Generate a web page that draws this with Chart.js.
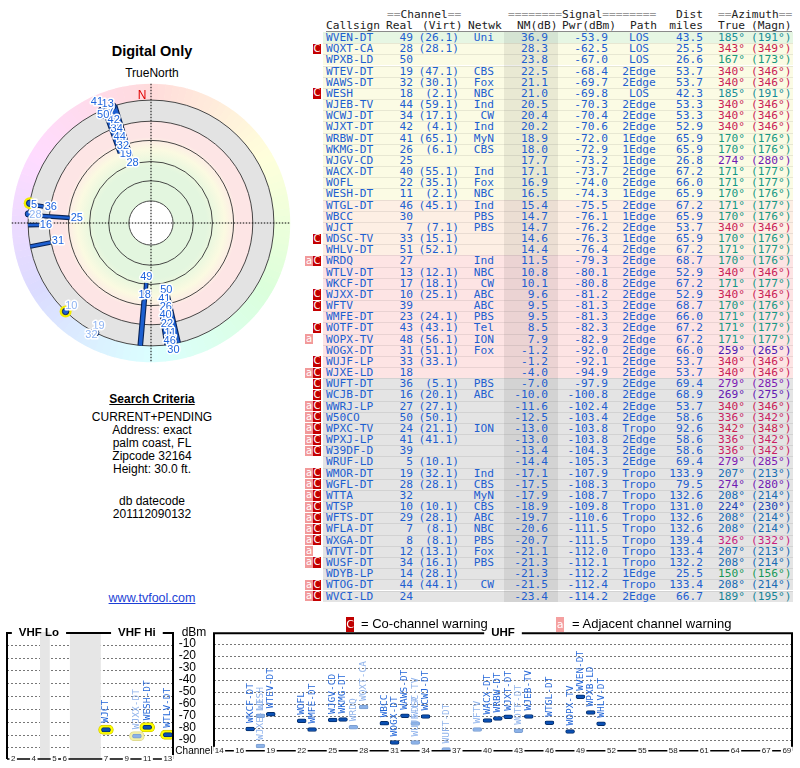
<!DOCTYPE html>
<html>
<head>
<meta charset="utf-8">
<title>Digital Only</title>
<script src="https://cdn.jsdelivr.net/npm/chart.js"></script>
<style>
  body { margin: 0; background: #fff; font-family: "Liberation Sans", Arial, sans-serif; }
  #page { position: relative; width: 800px; height: 768px; overflow: hidden; }
  .side { position: absolute; left: 0; width: 304px; text-align: center; font-size: 12px; line-height: 13px; color: #000; }
  .tb { position: absolute; white-space: pre; font-family: "DejaVu Sans Mono", monospace; font-size: 11.2px; }
  .eq { color: #9a9a9a; }
  .mk { position: absolute; width: 8px; color: #fff; font-family: "DejaVu Sans", sans-serif; font-size: 10px; text-align: center; }
  canvas { position: absolute; }
</style>
</head>
<body>
<div id="page">
  <div class="side" style="top:42px;font-size:14.5px;line-height:18px;font-weight:bold;">Digital Only</div>
  <div class="side" style="top:67px;">TrueNorth</div>
  <canvas id="polar" width="302" height="304" style="left:0;top:71px;"></canvas>
  <div class="side" style="top:393px;font-weight:bold;text-decoration:underline;">Search Criteria</div>
  <div class="side" style="top:411px;">CURRENT+PENDING<br>Address: exact<br>palm coast, FL<br>Zipcode 32164<br>Height: 30.0 ft.</div>
  <div class="side" style="top:495px;">db datecode<br>201112090132</div>
  <div class="side" style="top:591px;font-size:12.5px;line-height:14px;color:#1c3fd6;text-decoration:underline;">www.tvfool.com</div>
  <div id="tbl"></div>
  <canvas id="vhf" width="176" height="153" style="left:0;top:615px;"></canvas>
  <canvas id="uhf" width="628" height="153" style="left:172px;top:615px;"></canvas>
  <div class="mk" style="left:346px;top:617px;height:15px;line-height:15px;font-size:11px;background:#c00000;">C</div>
  <div style="position:absolute;left:361px;top:616px;font-size:13px;line-height:16px;">= Co-channel warning</div>
  <div class="mk" style="left:556px;top:617px;height:15px;line-height:15px;font-size:11px;background:#f5a0a0;">a</div>
  <div style="position:absolute;left:572px;top:616px;font-size:13px;line-height:16px;">= Adjacent channel warning</div>
</div>

<script>
// ---- station data ----
const callsigns = ['WVEN-DT','WQXT-CA','WPXB-LD','WTEV-DT','WAWS-DT','WESH','WJEB-TV','WCWJ-DT','WJXT-DT','WRBW-DT',
  'WKMG-DT','WJGV-CD','WACX-DT','WOFL','WESH-DT','WTGL-DT','WBCC','WJCT','WDSC-TV','WHLV-DT',
  'WRDQ','WTLV-DT','WKCF-DT','WJXX-DT','WFTV','WMFE-DT','WOTF-DT','WOPX-TV','WOGX-DT','WUJF-LP',
  'WJXE-LD','WUFT-DT','WCJB-DT','WWRJ-LP','W50CO','WPXC-TV','WPXJ-LP','W39DF-D','WRUF-LD','WMOR-DT',
  'WGFL-DT','WTTA','WTSP','WFTS-DT','WFLA-DT','WXGA-DT','WTVT-DT','WUSF-DT','WDYB-LP','WTOG-DT','WVCI-LD'];
const realCh = [49,28,50,19,32,18,44,34,42,41, 26,25,40,22,11,46,30,7,33,51,
  27,13,17,10,39,23,43,48,31,33, 18,36,16,27,50,24,41,39,5,19, 28,32,10,29,7,8,12,34,14,44,24];
const virtCh = ['26.1','28.1','','47.1','30.1','2.1','59.1','17.1','4.1','65.1',
  '6.1','','55.1','35.1','2.1','45.1','','7.1','15.1','52.1',
  '','12.1','18.1','25.1','','24.1','43.1','56.1','51.1','33.1',
  '','5.1','20.1','27.1','50.1','21.1','41.1','','10.1','32.1',
  '28.1','','10.1','28.1','8.1','8.1','13.1','16.1','28.1','44.1',''];
const networks = ['Uni','','','CBS','Fox','NBC','Ind','CW','Ind','MyN',
  'CBS','','Ind','Fox','NBC','Ind','PBS','PBS','','',
  'Ind','NBC','CW','ABC','ABC','PBS','Tel','ION','Fox','',
  '','PBS','ABC','','','ION','','','','Ind',
  'CBS','MyN','CBS','ABC','NBC','PBS','Fox','PBS','','CW',''];
const nmDb = [36.9,28.3,23.8,22.5,21.1,21.0,20.5,20.4,20.2,18.9,
  18.0,17.7,17.1,16.9,16.5,15.4,14.7,14.7,14.6,14.4,
  11.5,10.8,10.1,9.6,9.5,9.5,8.5,7.9,-1.2,-1.2,
  -4.0,-7.0,-10.0,-11.6,-12.5,-13.0,-13.0,-13.4,-14.4,-17.1,
  -17.5,-17.9,-18.9,-19.7,-20.6,-20.7,-21.1,-21.3,-21.3,-21.5,-23.4];
const pwrDbm = [-53.9,-62.5,-67.0,-68.4,-69.7,-69.8,-70.3,-70.4,-70.6,-72.0,
  -72.9,-73.2,-73.7,-74.0,-74.3,-75.5,-76.1,-76.2,-76.3,-76.4,
  -79.3,-80.1,-80.8,-81.2,-81.3,-81.3,-82.3,-82.9,-92.0,-92.1,
  -94.9,-97.9,-100.8,-102.4,-103.4,-103.8,-103.8,-104.3,-105.3,-107.9,
  -108.3,-108.7,-109.8,-110.6,-111.5,-111.5,-112.0,-112.1,-112.2,-112.4,-114.2];
const paths = ['LOS','LOS','LOS','2Edge','2Edge','LOS','2Edge','2Edge','2Edge','1Edge',
  '1Edge','1Edge','2Edge','2Edge','1Edge','2Edge','1Edge','2Edge','1Edge','2Edge',
  '2Edge','2Edge','2Edge','2Edge','2Edge','2Edge','2Edge','2Edge','2Edge','2Edge',
  '2Edge','2Edge','2Edge','2Edge','2Edge','Tropo','2Edge','2Edge','2Edge','Tropo',
  'Tropo','Tropo','Tropo','Tropo','Tropo','Tropo','Tropo','Tropo','1Edge','Tropo','2Edge'];
const distMiles = [43.5,25.5,26.6,53.7,53.7,42.3,53.3,53.3,52.9,65.9,
  65.9,26.8,67.2,66.0,65.9,67.2,65.9,53.7,65.9,67.2,
  68.7,52.9,67.2,52.9,68.7,66.0,67.2,67.2,66.0,53.7,
  53.7,69.4,68.9,53.7,58.6,92.6,58.6,58.6,69.4,133.9,
  79.5,132.6,131.0,132.6,132.6,139.4,133.4,132.2,25.5,133.4,66.7];
const azTrue = [185,343,167,340,340,185,340,340,340,170,
  170,274,171,171,170,171,170,340,170,171,
  170,340,171,340,170,171,171,171,259,340,
  340,279,269,340,336,342,336,336,279,207,
  274,208,224,208,208,326,207,208,150,208,189];
const azMagn = [191,349,173,346,346,191,346,346,346,176,
  176,280,177,177,176,177,176,346,176,177,
  176,346,177,346,176,177,177,177,265,346,
  346,285,275,346,342,348,342,342,285,213,
  280,214,230,214,214,332,213,214,156,214,195];
const warnings = ['','C','','','','C','','','','',
  '','','','','','','','','C','',
  'aC','','','C','C','','C','a','','C',
  'aC','C','C','aC','aC','aC','aC','aC','','aC',
  'aC','aC','aC','aC','aC','aC','a','aC','','aC','aC'];

// ---- tick labels ----
const vhfTicks = [2,4,5,6,7,9,11,13];
const uhfTicks = [14,16,19,22,25,28,31,34,37,40,43,46,49,52,55,58,61,64,67,69];
const dbmTicks = [-10,-20,-30,-40,-50,-60,-70,-80,-90];

// ---- helpers ----
function tierColor(nm) {
  if (nm >= 30) return '#e6f6e3';
  if (nm >= 16) return '#fbfbe4';
  if (nm >= 13) return '#fdefe4';
  if (nm >= -5) return '#fde4e4';
  return '#e4e4e4';
}
function azColor(a) {
  const l = (a >= 120 && a < 200) ? 34 : (a >= 200 && a < 300) ? 40 : 45;
  return 'hsl(' + a + ',75%,' + l + '%)';
}

// ---- table ----
const ROW_TOP = 32, ROW_H = 11.17;
(function buildTable() {
  let h = '';
  const txt = (x, top, s, color, align) => {
    let pos = 'left:' + x + 'px;';
    if (align === 'r') pos = 'left:' + (x - 90) + 'px;width:90px;text-align:right;';
    if (align === 'c') pos = 'left:' + (x - 45) + 'px;width:90px;text-align:center;';
    return '<div class="tb" style="' + pos + 'top:' + top + 'px;line-height:' + ROW_H + 'px;color:' + color + '">' + s + '</div>';
  };
  const hc = '#222';
  const t1 = 15 - ROW_H / 2, t2 = 26 - ROW_H / 2;
  h += txt(387, t1, '<span class="eq">==</span>Channel<span class="eq">==</span>', hc);
  h += txt(508, t1, '<span class="eq">========</span>Signal<span class="eq">========</span>', hc);
  h += txt(703, t1, 'Dist', hc, 'r');
  h += txt(718, t1, '<span class="eq">==</span>Azimuth<span class="eq">==</span>', hc);
  h += txt(326, t2, 'Callsign', hc);
  h += txt(413, t2, 'Real', hc, 'r');
  h += txt(422, t2, '(Virt)', hc);
  h += txt(468, t2, 'Netwk', hc);
  h += txt(517, t2, 'NM(dB)', hc);
  h += txt(562, t2, 'Pwr(dBm)', hc);
  h += txt(630, t2, 'Path', hc);
  h += txt(703, t2, 'miles', hc, 'r');
  h += txt(718, t2, 'True', hc);
  h += txt(751, t2, '(Magn)', hc);
  h += '<div style="position:absolute;left:326px;top:30.5px;width:466px;height:1px;background:#8a8a8a"></div>';

  callsigns.forEach((c, i) => {
    const top = ROW_TOP + i * ROW_H;
    h += '<div style="position:absolute;left:323px;width:470px;box-sizing:border-box;top:' + top + 'px;height:' + ROW_H +
      'px;background:' + tierColor(nmDb[i]) + ';' + (i ? 'border-top:1px solid rgba(0,0,0,0.08)' : '') + '"></div>';
  });
  h += '<div style="position:absolute;left:504px;width:54px;top:' + ROW_TOP + 'px;height:' + (callsigns.length * ROW_H) + 'px;background:rgba(0,0,0,0.07)"></div>';

  const bc = '#1e5fd0';
  callsigns.forEach((c, i) => {
    const top = ROW_TOP + i * ROW_H;
    if (warnings[i].includes('a'))
      h += '<div class="mk" style="left:305px;top:' + (top + 0.5) + 'px;height:' + (ROW_H - 1) + 'px;line-height:' + (ROW_H - 1) + 'px;background:#f29a9a">a</div>';
    if (warnings[i].includes('C'))
      h += '<div class="mk" style="left:313px;top:' + (top + 0.5) + 'px;height:' + (ROW_H - 1) + 'px;line-height:' + (ROW_H - 1) + 'px;background:#c40000">C</div>';
    h += txt(326, top, c, bc);
    h += txt(413, top, String(realCh[i]), bc, 'r');
    if (virtCh[i]) h += txt(459, top, '(' + virtCh[i] + ')', bc, 'r');
    if (networks[i]) h += txt(494, top, networks[i], bc, 'r');
    h += txt(548, top, nmDb[i].toFixed(1), bc, 'r');
    h += txt(608, top, pwrDbm[i].toFixed(1), bc, 'r');
    h += txt(639, top, paths[i], bc, 'c');
    h += txt(703, top, distMiles[i].toFixed(1), bc, 'r');
    h += txt(718, top, azTrue[i] + '°', azColor(azTrue[i]));
    h += txt(751, top, '(' + azMagn[i] + '°)', azColor(azTrue[i]));
  });
  document.getElementById('tbl').innerHTML = h;
})();

Chart.defaults.font.family = '"Liberation Sans", Arial, sans-serif';
Chart.defaults.animation = false;

// ---- polar plot (units are pixels of radius) ----
const R_EDGE = 128, R_HUE = 145;
const RINGS = [23, 44, 64, 86, 106, 128];
const POLAR_FLOOR = -111;   // weaker stations are left off the plot
function pwrToR(p) { return 64 + (-55 - p) * 1.15; }

const GAP = { x: null, y: null };
const barPts = [], barHaloPts = [], dotPts = [], dotHaloPts = [], polarLabels = [];
const byAz = {};
azTrue.forEach((a, i) => { (byAz[a] = byAz[a] || []).push(i); });
callsigns.forEach((c, i) => {
  if (pwrDbm[i] < POLAR_FLOOR) return;
  const a = azTrue[i] * Math.PI / 180;
  const ux = Math.sin(a), uy = Math.cos(a);
  const grp = byAz[azTrue[i]];
  const off = (grp.indexOf(i) - (grp.length - 1) / 2) * 1.1;
  const at = r => ({ x: ux * r + uy * off, y: uy * r - ux * off });
  const vhf = realCh[i] <= 13;
  let r = pwrToR(pwrDbm[i]);
  if (r > 120) {
    r = R_EDGE;
    dotPts.push(at(r));
    if (vhf) dotHaloPts.push(at(r));
  } else {
    barPts.push(at(r), at(R_EDGE), GAP);
    if (vhf) barHaloPts.push(at(r), at(R_EDGE), GAP);
  }
  polarLabels.push({ i, r, ux, uy });
});

const polarDeco = {
  id: 'polarDeco',
  beforeDatasetsDraw(chart) {
    const { ctx, scales: { x, y } } = chart;
    const cx = x.getPixelForValue(0), cy = y.getPixelForValue(0);
    const k = x.getPixelForValue(1) - cx;
    ctx.save();
    for (let a = 0; a < 360; a += 3) {
      const s = (a - 90) * Math.PI / 180, e = (a + 3.2 - 90) * Math.PI / 180;
      ctx.beginPath();
      ctx.arc(cx, cy, R_HUE * k, s, e);
      ctx.arc(cx, cy, R_EDGE * k, e, s, true);
      ctx.closePath();
      ctx.fillStyle = 'hsl(' + (a + 1.5) + ',100%,93%)';
      ctx.fill();
    }
    const g = ctx.createRadialGradient(cx, cy, 0, cx, cy, R_EDGE * k);
    g.addColorStop(0, '#e3f6df'); g.addColorStop(0.45, '#e3f6df');
    g.addColorStop(0.52, '#edf8df'); g.addColorStop(0.6, '#fbfae1');
    g.addColorStop(0.67, '#fdeee5'); g.addColorStop(0.7, '#fde5e5');
    g.addColorStop(0.826, '#fde5e5'); g.addColorStop(0.83, '#e3e3e3');
    g.addColorStop(1, '#e3e3e3');
    ctx.beginPath(); ctx.arc(cx, cy, R_EDGE * k, 0, 2 * Math.PI);
    ctx.fillStyle = g; ctx.fill();
    ctx.beginPath(); ctx.arc(cx, cy, RINGS[0] * k, 0, 2 * Math.PI);
    ctx.fillStyle = '#fff'; ctx.fill();
    ctx.strokeStyle = '#333'; ctx.lineWidth = 0.9;
    RINGS.forEach(r => { ctx.beginPath(); ctx.arc(cx, cy, r * k, 0, 2 * Math.PI); ctx.stroke(); });
    ctx.setLineDash([1.5, 1.5]); ctx.strokeStyle = '#000'; ctx.lineWidth = 1;
    ctx.beginPath();
    ctx.moveTo(cx - R_HUE * k, cy); ctx.lineTo(cx + R_HUE * k, cy);
    ctx.moveTo(cx, cy - R_HUE * k); ctx.lineTo(cx, cy + R_HUE * k);
    ctx.stroke();
    ctx.setLineDash([]);
    ctx.fillStyle = '#e00000'; ctx.font = '12px "Liberation Sans", Arial';
    ctx.textAlign = 'center'; ctx.textBaseline = 'middle';
    ctx.fillText('N', cx - 9, cy - 133 * k);
    ctx.restore();
  },
  afterDatasetsDraw(chart) {
    const { ctx, scales: { x, y } } = chart;
    ctx.save();
    ctx.font = '11px "Liberation Sans", Arial';
    ctx.textAlign = 'center'; ctx.textBaseline = 'middle';
    ctx.lineJoin = 'round';
    const placed = [], h = 9;
    polarLabels.forEach(L => {
      const s = String(realCh[L.i]);
      const w = ctx.measureText(s).width;
      let rl = L.r - (Math.abs(L.ux) * w / 2 + Math.abs(L.uy) * h / 2) - 1;
      let px, py, ok = false;
      for (; rl < 140; rl += 1.5) {
        px = x.getPixelForValue(L.ux * rl); py = y.getPixelForValue(L.uy * rl);
        if (!placed.some(b => Math.abs(b.x - px) < (b.w + w) / 2 - 2 && Math.abs(b.y - py) < h - 1)) { ok = true; break; }
      }
      if (!ok) return;
      placed.push({ x: px, y: py, w });
      ctx.lineWidth = 3; ctx.strokeStyle = '#fff';
      ctx.strokeText(s, px, py);
      ctx.fillStyle = nmDb[L.i] < -15 ? '#8fb4f2' : '#1d64de';
      ctx.fillText(s, px, py);
    });
    ctx.restore();
  }
};

new Chart(document.getElementById('polar'), {
  type: 'scatter',
  data: {
    datasets: [
      { data: dotPts, order: 0, showLine: false, pointRadius: 3.2, pointBackgroundColor: '#1d5fd0', pointBorderColor: '#0a2456', pointBorderWidth: 1 },
      { data: dotHaloPts, order: 1, showLine: false, pointRadius: 6, pointBackgroundColor: '#f2ec00', pointBorderWidth: 0 },
      { data: barPts.slice(), order: 2, showLine: true, pointRadius: 0, borderColor: '#1d5fd0', borderWidth: 2.4 },
      { data: barPts.slice(), order: 3, showLine: true, pointRadius: 0, borderColor: '#0a2456', borderWidth: 4.6 },
      { data: barHaloPts, order: 4, showLine: true, pointRadius: 0, borderColor: '#f2ec00', borderWidth: 8 }
    ]
  },
  options: {
    responsive: false,
    events: [],
    layout: { padding: 0 },
    plugins: { legend: { display: false }, tooltip: { enabled: false } },
    scales: {
      x: { type: 'linear', display: false, min: -151, max: 151 },
      y: { type: 'linear', display: false, min: -152, max: 152 }
    }
  },
  plugins: [polarDeco]
});

// ---- channel / signal bar charts ----
function vhfSlot(ch) { return ch <= 4 ? ch : ch <= 6 ? ch + 1 : ch + 4; }
function uhfSlot(ch) { return ch; }

const HALF = 1.6;
function barSets(filter, slot, halo) {
  const idx = callsigns.map((c, i) => i).filter(filter);
  const dark = idx.filter(i => !warnings[i].includes('C'));
  const light = idx.filter(i => warnings[i].includes('C'));
  const pts = (list, hh) => list.map(i => ({ x: slot(realCh[i]), y: [pwrDbm[i] - hh, pwrDbm[i] + hh], i }));
  const common = { grouped: false, barThickness: 9, borderWidth: 1, borderRadius: 2, borderSkipped: false };
  const sets = [
    Object.assign({ data: pts(dark, HALF), backgroundColor: '#0a50b4', borderColor: '#062f6c', labelColor: '#2366d8', order: 0 }, common),
    Object.assign({ data: pts(light, HALF), backgroundColor: '#8cb2e8', borderColor: '#7c9fd2', labelColor: '#8fb3ec', order: 1 }, common)
  ];
  if (halo) {
    const hc = { grouped: false, barThickness: 15, borderWidth: 1, borderRadius: 5, borderSkipped: false, order: 2 };
    sets.push(Object.assign({ data: pts(dark, 3.6), backgroundColor: '#ffff00', borderColor: '#d6cc00' }, hc));
    sets.push(Object.assign({ data: pts(light, 3.6), backgroundColor: '#f3f0a8', borderColor: '#e0dc90' }, hc));
  }
  return sets;
}

const chanFrame = {
  id: 'chanFrame',
  beforeDatasetsDraw(chart, args, o) {
    const { ctx, chartArea: a, scales: { x, y } } = chart;
    ctx.save();
    ctx.strokeStyle = '#777'; ctx.lineWidth = 1; ctx.setLineDash([2, 2]);
    dbmTicks.forEach(v => {
      const py = Math.round(y.getPixelForValue(v)) + 0.5;
      ctx.beginPath(); ctx.moveTo(a.left, py); ctx.lineTo(a.right, py); ctx.stroke();
    });
    ctx.setLineDash([]);
    ctx.fillStyle = '#e6e6e6';
    (o.bands || []).forEach(b => {
      const x0 = x.getPixelForValue(b[0]), x1 = x.getPixelForValue(b[1]);
      ctx.fillRect(x0, a.top, x1 - x0, a.bottom - a.top);
    });
    ctx.restore();
  },
  afterDatasetsDraw(chart, args, o) {
    const { ctx, chartArea: a, scales: { x, y } } = chart;
    ctx.save();
    // station names, vertical
    ctx.font = '9.5px "DejaVu Sans Mono", monospace';
    ctx.textAlign = 'left'; ctx.textBaseline = 'middle';
    chart.data.datasets.forEach((ds, d) => {
      if (!ds.labelColor) return;
      chart.getDatasetMeta(d).data.forEach((el, k) => {
        const i = ds.data[k].i;
        if (pwrDbm[i] < y.min) return;
        const top = y.getPixelForValue(pwrDbm[i]) - (realCh[i] <= 13 ? 7 : 6);
        ctx.save();
        ctx.translate(el.x, top); ctx.rotate(-Math.PI / 2);
        ctx.fillStyle = ds.labelColor;
        ctx.fillText(callsigns[i], 0, 0);
        ctx.restore();
      });
    });
    // box with titles in the top edge
    ctx.strokeStyle = '#000'; ctx.lineWidth = 2;
    ctx.font = 'bold 11.5px "Liberation Sans", Arial';
    ctx.textAlign = 'center'; ctx.textBaseline = 'middle';
    const top = a.top + 1;
    const gaps = o.titles.map(t => {
      const cx = (x.getPixelForValue(t.from) + x.getPixelForValue(t.to)) / 2;
      const w = ctx.measureText(t.text).width;
      ctx.fillStyle = '#000';
      ctx.fillText(t.text, cx, top);
      return [cx - w / 2 - 7, cx + w / 2 + 7];
    });
    let sx = a.left;
    ctx.beginPath();
    gaps.forEach(g => { ctx.moveTo(sx, top); ctx.lineTo(g[0], top); sx = g[1]; });
    ctx.moveTo(sx, top); ctx.lineTo(a.right, top);
    ctx.moveTo(a.left, top - 1); ctx.lineTo(a.left, a.bottom);
    ctx.moveTo(a.right, top - 1); ctx.lineTo(a.right, a.bottom);
    ctx.stroke();
    // channel axis
    ctx.lineWidth = 1.5;
    ctx.beginPath(); ctx.moveTo(a.left, a.bottom); ctx.lineTo(a.right, a.bottom); ctx.stroke();
    ctx.font = '8px "Liberation Sans", Arial';
    o.ticks.forEach(ch => {
      const px = x.getPixelForValue(o.slot(ch));
      const w = ctx.measureText(String(ch)).width;
      ctx.fillStyle = '#fff';
      ctx.fillRect(px - w / 2 - 1.5, a.bottom - 4, w + 3, 8);
      ctx.fillStyle = '#222';
      ctx.fillText(String(ch), px, a.bottom);
    });
    if (o.axisNames) {
      const lx = a.left - 20;
      ctx.fillStyle = '#000';
      ctx.font = '12px "Liberation Sans", Arial';
      ctx.fillText('dBm', lx, a.top);
      ctx.font = '10px "Liberation Sans", Arial';
      ctx.fillText('Channel', lx, a.bottom);
    }
    ctx.restore();
  }
};

function yScale(show) {
  return {
    type: 'linear', min: -99, max: 0, display: show,
    afterBuildTicks: s => { s.ticks = dbmTicks.map(v => ({ value: v })); },
    afterFit: s => { s.width = show ? 42 : 0; },
    grid: { display: false }, border: { display: false },
    ticks: { color: '#000', padding: 10, autoSkip: false, font: { size: 12 } }
  };
}

new Chart(document.getElementById('vhf'), {
  type: 'bar',
  data: { datasets: barSets(i => realCh[i] <= 13, vhfSlot, true) },
  options: {
    responsive: false, events: [],
    layout: { padding: { left: 7, right: 3, top: 17, bottom: 9 } },
    plugins: {
      legend: { display: false }, tooltip: { enabled: false },
      chanFrame: {
        titles: [{ text: 'VHF Lo', from: vhfSlot(2), to: vhfSlot(6) }, { text: 'VHF Hi', from: vhfSlot(7), to: vhfSlot(13) }],
        bands: [[4.6, 5.55], [7.5, 10.5]],
        ticks: vhfTicks, slot: vhfSlot
      }
    },
    scales: {
      x: { type: 'linear', display: false, offset: false, min: 1.4, max: 17.5 },
      y: yScale(false)
    }
  },
  plugins: [chanFrame]
});

new Chart(document.getElementById('uhf'), {
  type: 'bar',
  data: { datasets: barSets(i => realCh[i] >= 14, uhfSlot, false) },
  options: {
    responsive: false, events: [],
    layout: { padding: { left: 0, right: 8, top: 17, bottom: 9 } },
    plugins: {
      legend: { display: false }, tooltip: { enabled: false },
      chanFrame: {
        titles: [{ text: 'UHF', from: 14, to: 69 }],
        ticks: uhfTicks, slot: uhfSlot, axisNames: true
      }
    },
    scales: {
      x: { type: 'linear', display: false, offset: false, min: 13.5, max: 69.5 },
      y: yScale(true)
    }
  },
  plugins: [chanFrame]
});
</script>
</body>
</html>
